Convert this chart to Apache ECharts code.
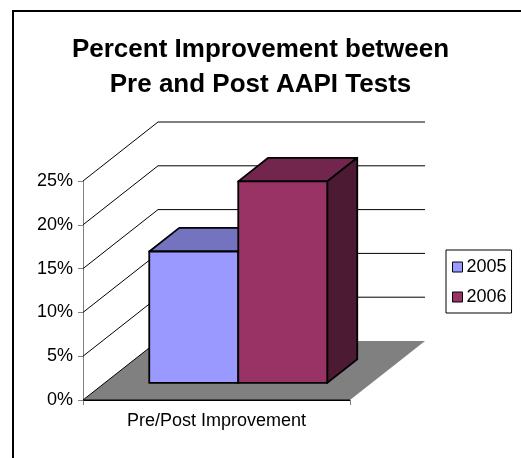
<!DOCTYPE html>
<html lang="en">
<head>
    <meta charset="UTF-8">
    <title>Percent Improvement between Pre and Post AAPI Tests</title>
    <script type="text/javascript" src="https://cdn.jsdelivr.net/npm/echarts@6/dist/echarts.min.js"></script>
    <style>
        html, body { margin: 0; padding: 0; background: #fff; }
    </style>
</head>
<body>
<div id="main" style="width: 521px;height:458px;"></div>
<script>

    // data
    var categories = ['Pre/Post Improvement'];
    var seriesNames = ['2005', '2006'];
    var values2005 = [0.15];
    var values2006 = [0.23];
    var tickValues = [0, 0.05, 0.10, 0.15, 0.20, 0.25];

    // 3d look: depth vector of the plot box, and where the bars sit in it
    var DX = 75, DY = -59;
    var FRONT = 0.29, DEPTH = 0.4;
    var FONT = 'Liberation Sans, Arial, sans-serif';

    var faceColors = {
        '2005': {front: '#9999FF', top: '#7373BF', side: '#4D4D80'},
        '2006': {front: '#993366', top: '#73264D', side: '#4D1A33'}
    };

    function wallRenderer(params, api) {
        var cs = params.coordSys;
        var v = api.value(1);
        var y = api.coord([0, v])[1];
        var x0 = cs.x, x1 = cs.x + cs.width;
        var line = {stroke: '#000', lineWidth: 1};
        if (v === 0) {
            return {
                type: 'group',
                children: [
                    {type: 'polygon', shape: {points: [[x0, y], [x1, y], [x1 + DX, y + DY], [x0 + DX, y + DY]]},
                        style: {fill: '#808080'}},
                    {type: 'line', shape: {x1: x0, y1: y, x2: x0 + DX, y2: y + DY}, style: line},
                    {type: 'line', shape: {x1: x0, y1: y, x2: x1, y2: y}, style: line}
                ]
            };
        }
        return {
            type: 'group',
            children: [
                {type: 'line', shape: {x1: x0, y1: y, x2: x0 + DX, y2: y + DY}, style: line},
                {type: 'line', shape: {x1: x0 + DX, y1: y + DY, x2: x1 + DX, y2: y + DY}, style: line}
            ]
        };
    }

    function barRenderer(slot, c) {
        return function (params, api) {
            var cat = api.value(0), v = api.value(1);
            var base = api.coord([cat, 0]);
            var top = api.coord([cat, v]);
            var bw = api.size([1, 0])[0];
            var w = bw / 3;
            var x0 = base[0] + slot * w + FRONT * DX;
            var x1 = x0 + w;
            var yb = base[1] + FRONT * DY, yt = top[1] + FRONT * DY;
            var dx = DEPTH * DX, dy = DEPTH * DY;
            var edge = {stroke: '#000', lineWidth: 1.8, lineJoin: 'round'};
            return {
                type: 'group',
                children: [
                    {type: 'polygon', shape: {points: [[x0, yt], [x0 + dx, yt + dy], [x1 + dx, yt + dy], [x1, yt]]},
                        style: Object.assign({fill: c.top}, edge)},
                    {type: 'polygon', shape: {points: [[x1, yt], [x1 + dx, yt + dy], [x1 + dx, yb + dy], [x1, yb]]},
                        style: Object.assign({fill: c.side}, edge)},
                    {type: 'rect', shape: {x: x0, y: yt, width: w, height: yb - yt},
                        style: Object.assign({fill: c.front}, edge)}
                ]
            };
        };
    }

    var myChart = echarts.init(document.getElementById('main'));

    var option = {
        backgroundColor: '#fff',
        animation: false,
        textStyle: {fontFamily: FONT},
        graphic: [{
            type: 'rect',
            shape: {x: 13, y: 11, width: 600, height: 600},
            style: {fill: 'none', stroke: '#000', lineWidth: 2},
            silent: true
        }],
        title: {
            text: 'Percent Improvement between\nPre and Post AAPI Tests',
            left: 'center',
            top: 27,
            padding: [5, 0, 5, 13],
            textStyle: {fontSize: 26, fontWeight: 'bold', color: '#000', lineHeight: 35, fontFamily: FONT}
        },
        legend: {
            data: seriesNames,
            orient: 'vertical',
            left: 446,
            top: 250,
            icon: 'rect',
            itemWidth: 10,
            itemHeight: 10,
            itemGap: 12,
            padding: [8, 5, 7, 6],
            borderColor: '#000',
            borderWidth: 1,
            itemStyle: {borderColor: '#000', borderWidth: 1},
            textStyle: {fontSize: 18, color: '#000', fontFamily: FONT, padding: [0, 0, 0, -1]}
        },
        grid: {left: 83, right: 171, top: 181, bottom: 58},
        xAxis: {
            type: 'category',
            data: categories,
            axisLine: {lineStyle: {color: '#000'}},
            axisTick: {show: true, length: 5, lineStyle: {color: '#808080'}},
            axisLabel: {fontSize: 18, color: '#000', margin: 12, fontFamily: FONT}
        },
        yAxis: {
            type: 'value',
            min: 0,
            max: 0.25,
            interval: 0.05,
            axisLine: {show: true, lineStyle: {color: '#808080'}},
            axisTick: {show: true, length: 5, lineStyle: {color: '#808080'}},
            splitLine: {show: false},
            axisLabel: {
                fontSize: 18, color: '#000', margin: 10, fontFamily: FONT,
                formatter: function (v) { return Math.round(v * 100) + '%'; }
            }
        },
        series: [
            {
                name: 'walls',
                type: 'custom',
                renderItem: wallRenderer,
                encode: {x: 0, y: 1},
                silent: true,
                data: tickValues.map(function (v) { return [0, v]; })
            },
            {
                name: '2005',
                type: 'custom',
                renderItem: barRenderer(-1, faceColors['2005']),
                encode: {x: 0, y: 1},
                itemStyle: {color: faceColors['2005'].front},
                data: values2005.map(function (v, i) { return [i, v]; })
            },
            {
                name: '2006',
                type: 'custom',
                renderItem: barRenderer(0, faceColors['2006']),
                encode: {x: 0, y: 1},
                itemStyle: {color: faceColors['2006'].front},
                data: values2006.map(function (v, i) { return [i, v]; })
            }
        ]
    };

    myChart.setOption(option);

</script>
</body>
</html>
